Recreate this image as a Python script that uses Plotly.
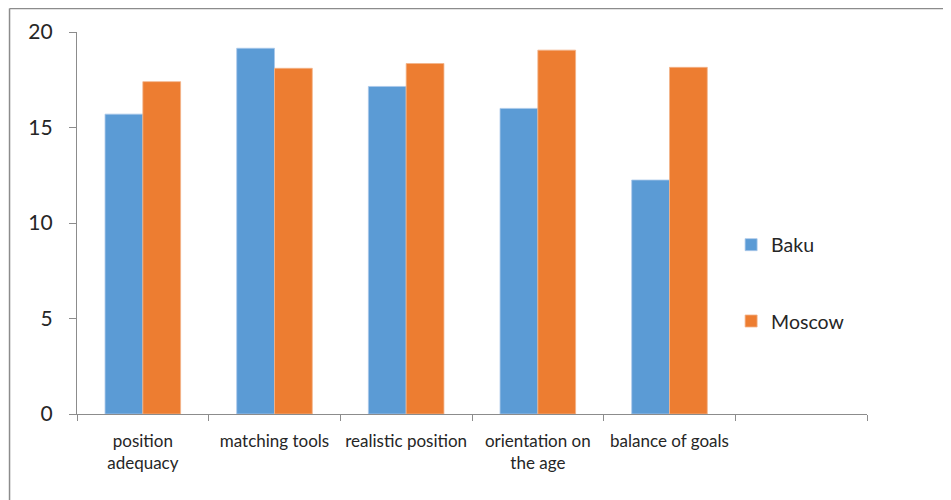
import plotly.graph_objects as go

categories = ["position<br>adequacy", "matching tools", "realistic position",
              "orientation on<br>the age", "balance of goals"]
extra_slot = [" "]
baku = [15.7, 19.15, 17.15, 16.0, 12.25]
moscow = [17.4, 18.1, 18.35, 19.05, 18.15]
y_ticks = [0, 5, 10, 15, 20]

FONT = "Lato"
TXT = "#262626"
AX = "#8c8c8c"

fig = go.Figure()
fig.add_trace(go.Bar(x=categories, y=baku, name="Baku", marker_color="#5B9BD5",
                     marker_line=dict(color="#a9c8ea", width=0.8), legendgroup="a"))
fig.add_trace(go.Bar(x=categories, y=moscow, name="Moscow", marker_color="#ED7D31",
                     marker_line=dict(color="#f3b48a", width=0.8), legendgroup="b"))

fig.update_layout(
    width=951, height=500,
    margin=dict(l=69, r=92, t=24, b=94, autoexpand=False),
    paper_bgcolor="white", plot_bgcolor="white",
    barmode="group", bargap=0.426, bargroupgap=0,
    font=dict(family=FONT, color=TXT),
    showlegend=True,
    legend=dict(x=0.828, y=0.343, xanchor="left", yanchor="middle",
                font=dict(size=19.5, family=FONT, color=TXT),
                tracegroupgap=48, itemwidth=30, bgcolor="rgba(0,0,0,0)"),
    xaxis=dict(type="category", categoryorder="array",
               categoryarray=categories + extra_slot, range=[-0.5, 5.5],
               showline=True, linecolor=AX, linewidth=1.3,
               ticks="outside", tickson="boundaries", ticklen=6, tickcolor=AX, tickwidth=1.3,
               tickangle=0, automargin=False,
               tickfont=dict(size=17, family=FONT, color=TXT), ticklabelstandoff=11,
               showgrid=False, zeroline=False, fixedrange=True),
    yaxis=dict(range=[0, 20], tickvals=y_ticks, showline=True, linecolor=AX, linewidth=1.3,
               ticks="outside", ticklen=7, tickcolor=AX, tickwidth=1.3, automargin=False,
               tickfont=dict(size=21, family=FONT, color=TXT), ticklabelstandoff=12,
               showgrid=False, zeroline=False, fixedrange=True),
    shapes=[
        dict(type="line", xref="paper", yref="paper", x0=-0.0854, x1=1.12, y0=1.0615, y1=1.0615,
             line=dict(color="#8c8c8c", width=1.5)),
        dict(type="line", xref="paper", yref="paper", x0=-0.0854, x1=-0.0854, y0=1.0615, y1=-0.25,
             line=dict(color="#8c8c8c", width=1.5)),
    ],
)

fig.write_html("out.html")
